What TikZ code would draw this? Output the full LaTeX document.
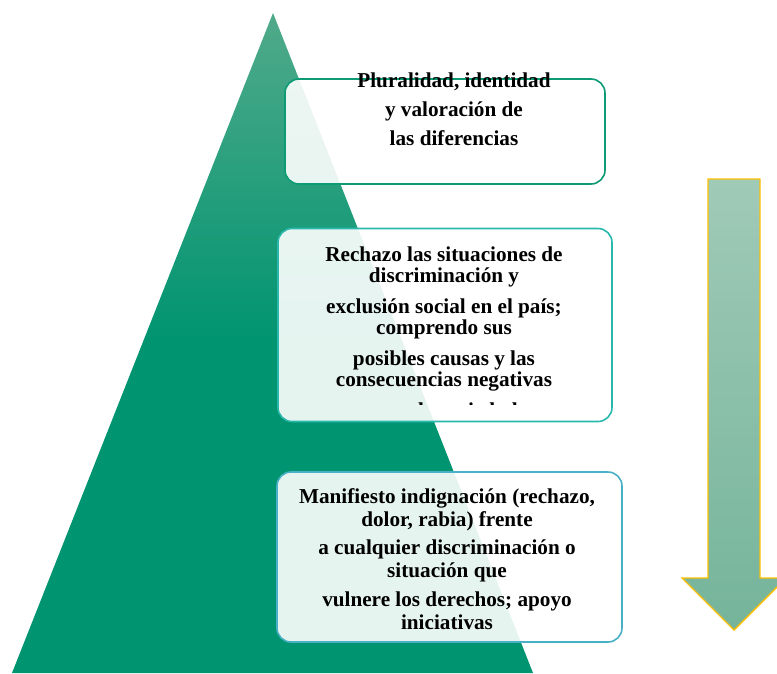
\documentclass[tikz,border=0pt]{standalone}
\usepackage{fontspec}
\setmainfont{Liberation Serif}
\definecolor{verdearriba}{RGB}{80,170,138}
\definecolor{verdeabajo}{RGB}{0,148,112}
\definecolor{bordeuno}{RGB}{12,155,116}
\definecolor{bordedos}{RGB}{43,184,172}
\definecolor{bordetres}{RGB}{74,176,198}
\definecolor{flechaarriba}{RGB}{160,202,184}
\definecolor{flechaabajo}{RGB}{117,180,155}
\definecolor{oro}{RGB}{255,192,0}
\begin{document}
\begin{tikzpicture}[x=1pt, y=-1pt,
        caja/.style  = {line width=1.6pt, rounded corners=14pt, fill=white, fill opacity=0.9, inner sep=0pt},
        texto/.style = {align=center, inner sep=0pt, anchor=base, font=\fontsize{21.2}{21.5}\selectfont\bfseries}]
    \useasboundingbox (0,0) rectangle (777,673);
    \clip (0,0) rectangle (777,673);
    % piramide
    \shade [top color=verdearriba, bottom color=verdeabajo, middle color=verdeabajo]
        (273,13) -- (533,673) -- (12,673) -- cycle;
    % flecha
    \shade [top color=flechaarriba, bottom color=flechaabajo, draw=oro, line width=1.4pt]
        (708,179) -- (760,179) -- (760,578) -- (786,578) -- (734,630) -- (682,578) -- (708,578) -- cycle;
    % cajas
    \node [caja, draw=bordeuno,  minimum width=320pt, minimum height=105pt] (caja1) at (445,131.5) {};
    \node [caja, draw=bordedos,  minimum width=334pt, minimum height=193pt] (caja2) at (445,325) {};
    \node [caja, draw=bordetres, minimum width=345pt, minimum height=170pt] (caja3) at (449.5,557) {};
    % textos (base = ultima linea)
    \node [texto] (texto1) at (454,145) {Pluralidad, identidad\\[7.5pt] y valoración de\\[7.5pt] las diferencias};
    \begin{scope}
        \clip (270,220) rectangle (620,404.5);
        \node [texto] (texto2) at (444,417) {Rechazo las situaciones de\\ discriminación y\\[9pt]
            exclusión social en el país;\\ comprendo sus\\[9pt]
            posibles causas y las\\ consecuencias negativas\\[9pt] para la sociedad};
    \end{scope}
    \node [texto] (texto3) at (447,629) {Manifiesto indignación (rechazo,\\[1.5pt] dolor, rabia) frente\\[7pt]
        a cualquier discriminación o\\[1.5pt] situación que\\[7pt]
        vulnere los derechos; apoyo\\[1.5pt] iniciativas};
\end{tikzpicture}
\end{document}
